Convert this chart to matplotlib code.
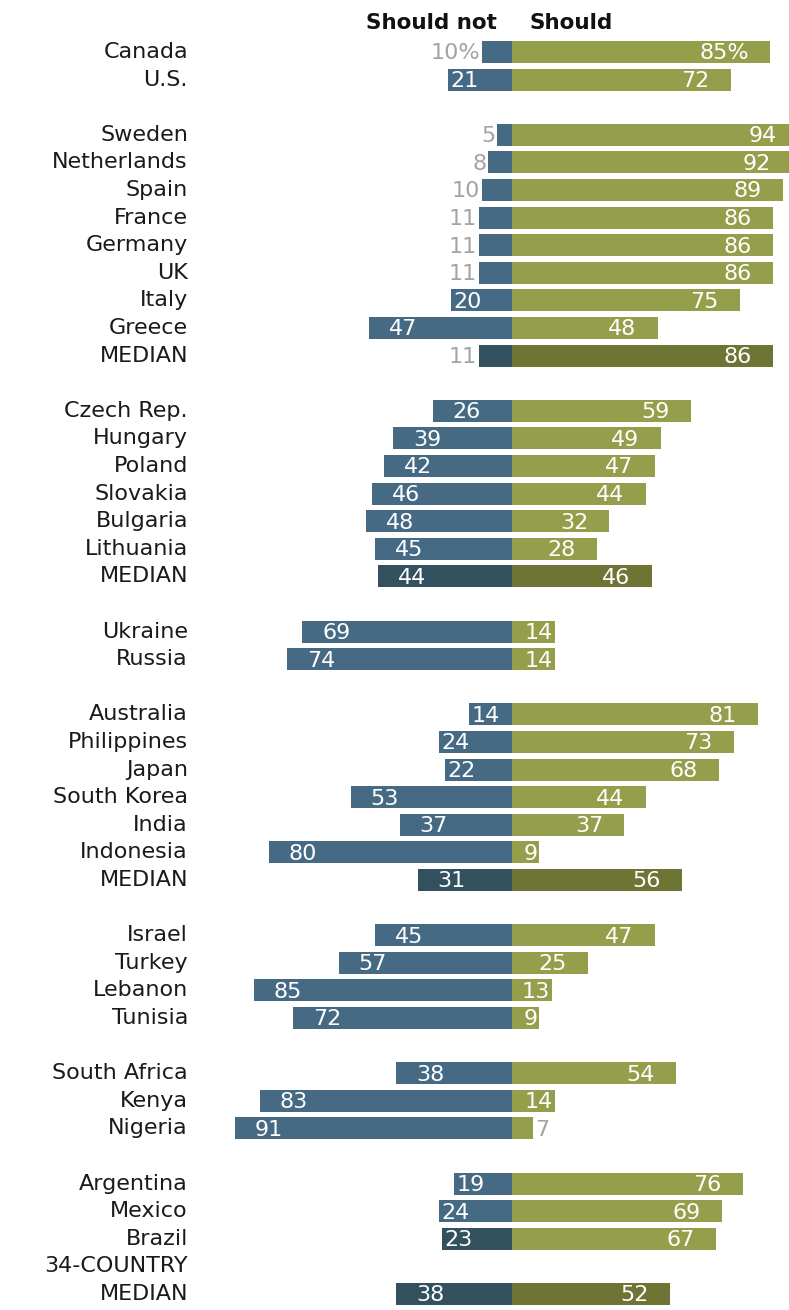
import matplotlib.pyplot as plt
import numpy as np

# data (rows top to bottom, '' = blank spacer row)
labels = ['Canada', 'U.S.', '',
          'Sweden', 'Netherlands', 'Spain', 'France', 'Germany', 'UK', 'Italy', 'Greece', 'MEDIAN', '',
          'Czech Rep.', 'Hungary', 'Poland', 'Slovakia', 'Bulgaria', 'Lithuania', 'MEDIAN', '',
          'Ukraine', 'Russia', '',
          'Australia', 'Philippines', 'Japan', 'South Korea', 'India', 'Indonesia', 'MEDIAN', '',
          'Israel', 'Turkey', 'Lebanon', 'Tunisia', '',
          'South Africa', 'Kenya', 'Nigeria', '',
          'Argentina', 'Mexico', 'Brazil', '34-COUNTRY', 'MEDIAN']
nan = np.nan
should_not = [10, 21, nan,
              5, 8, 10, 11, 11, 11, 20, 47, 11, nan,
              26, 39, 42, 46, 48, 45, 44, nan,
              69, 74, nan,
              14, 24, 22, 53, 37, 80, 31, nan,
              45, 57, 85, 72, nan,
              38, 83, 91, nan,
              19, 24, 23, nan, 38]
should = [85, 72, nan,
          94, 92, 89, 86, 86, 86, 75, 48, 86, nan,
          59, 49, 47, 44, 32, 28, 46, nan,
          14, 14, nan,
          81, 73, 68, 44, 37, 9, 56, nan,
          47, 25, 13, 9, nan,
          54, 14, 7, nan,
          76, 69, 67, nan, 52]

neg_col = '#466a84'
pos_col = '#959e4a'
neg_med = '#33505f'
pos_med = '#6e7434'
grey = '#a3a3a3'

fig = plt.figure(figsize=(7.89, 13.10), dpi=100)
ax = fig.add_axes([0, 0, 1, 1])
k = 3.04  # pixels per percent
ax.set_xlim(-512 / k, 277 / k)
ax.set_ylim(45.58, -1.884)
ax.axis('off')

fs = 16
for i, lab in enumerate(labels):
    if lab:
        ax.text(-106.6, i, lab, ha='right', va='center', fontsize=fs, color='#1a1a1a')
    n = should_not[i]
    p = should[i]
    if np.isnan(n):
        continue
    med = lab == 'MEDIAN'
    ax.barh(i, -n, height=0.8, color=neg_med if (med or lab == 'Brazil') else neg_col, linewidth=0)
    ax.barh(i, p, height=0.8, color=pos_med if med else pos_col, linewidth=0)
    sfx = '%' if i == 0 else ''
    # should not labels
    if n >= 14:
        pad = 6.5 if n >= 25 else 0.8
        ax.text(-n + pad, i + 0.05, str(n), ha='left', va='center', fontsize=fs, color='white')
    else:
        ax.text(-n - 0.5, i + 0.05, str(n) + sfx, ha='right', va='center', fontsize=fs, color=grey)
    # should labels
    if p >= 9:
        pad = 7 if p >= 25 else 0.6
        ax.text(p - pad, i + 0.05, str(p) + sfx, ha='right', va='center', fontsize=fs, color='white')
    else:
        ax.text(p + 0.5, i + 0.05, str(p), ha='left', va='center', fontsize=fs, color=grey)

ax.text(-4.9, -1.05, 'Should not', ha='right', va='center', fontsize=15.5, fontweight='bold', color='#111111')
ax.text(5.9, -1.05, 'Should', ha='left', va='center', fontsize=15.5, fontweight='bold', color='#111111')

plt.savefig('out.png', dpi=100)
